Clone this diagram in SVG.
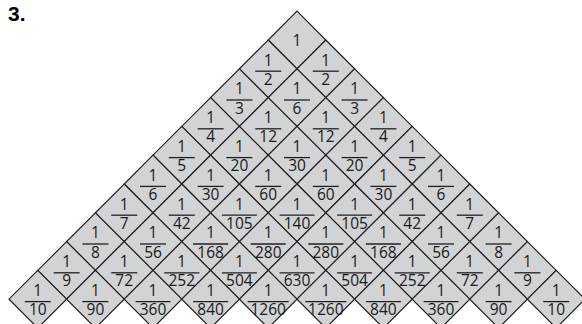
<svg xmlns="http://www.w3.org/2000/svg" xmlns:xlink="http://www.w3.org/1999/xlink" width="582" height="324" viewBox="0 0 582 324">
<style>
.d{fill:#d1d3d4;stroke:#231f20;stroke-width:1.2;stroke-linejoin:miter}
text{font-family:"Open Sans","Noto Sans",sans-serif;font-size:15.5px;fill:#1a1a1a;text-anchor:middle}
.bar{stroke:#231f20;stroke-width:1.3}
.lbl{font-family:"Liberation Sans",Arial,sans-serif;font-weight:bold;font-size:21px;text-anchor:start;fill:#000}
</style>
<defs>
<path id="d" class="d" d="M0,-28.8L28.8,0L0,28.8L-28.8,0Z"/>
<line id="b2" class="bar" x1="-13" y1="2.4" x2="13" y2="2.4"/>
<line id="b3" class="bar" x1="-17.5" y1="2.4" x2="17.5" y2="2.4"/>
<line id="b4" class="bar" x1="-20.5" y1="2.4" x2="20.5" y2="2.4"/>
</defs>
<text class="lbl" x="8" y="20.5">3.</text>
<g id="nodes">
<g id="n0-0" transform="translate(297,40)"><use href="#d"/><text y="5.5">1</text></g>

<g id="n1-0" transform="translate(268.2,68.8)"><use href="#d"/><text y="-3.3">1</text><use href="#b2"/><text y="15.9">2</text></g>
<g id="n1-1" transform="translate(325.8,68.8)"><use href="#d"/><text y="-3.3">1</text><use href="#b2"/><text y="15.9">2</text></g>

<g id="n2-0" transform="translate(239.4,97.6)"><use href="#d"/><text y="-3.3">1</text><use href="#b2"/><text y="15.9">3</text></g>
<g id="n2-1" transform="translate(297,97.6)"><use href="#d"/><text y="-3.3">1</text><use href="#b2"/><text y="15.9">6</text></g>
<g id="n2-2" transform="translate(354.6,97.6)"><use href="#d"/><text y="-3.3">1</text><use href="#b2"/><text y="15.9">3</text></g>

<g id="n3-0" transform="translate(210.6,126.4)"><use href="#d"/><text y="-3.3">1</text><use href="#b2"/><text y="15.9">4</text></g>
<g id="n3-1" transform="translate(268.2,126.4)"><use href="#d"/><text y="-3.3">1</text><use href="#b2"/><text y="15.9">12</text></g>
<g id="n3-2" transform="translate(325.8,126.4)"><use href="#d"/><text y="-3.3">1</text><use href="#b2"/><text y="15.9">12</text></g>
<g id="n3-3" transform="translate(383.4,126.4)"><use href="#d"/><text y="-3.3">1</text><use href="#b2"/><text y="15.9">4</text></g>

<g id="n4-0" transform="translate(181.8,155.2)"><use href="#d"/><text y="-3.3">1</text><use href="#b2"/><text y="15.9">5</text></g>
<g id="n4-1" transform="translate(239.4,155.2)"><use href="#d"/><text y="-3.3">1</text><use href="#b2"/><text y="15.9">20</text></g>
<g id="n4-2" transform="translate(297,155.2)"><use href="#d"/><text y="-3.3">1</text><use href="#b2"/><text y="15.9">30</text></g>
<g id="n4-3" transform="translate(354.6,155.2)"><use href="#d"/><text y="-3.3">1</text><use href="#b2"/><text y="15.9">20</text></g>
<g id="n4-4" transform="translate(412.2,155.2)"><use href="#d"/><text y="-3.3">1</text><use href="#b2"/><text y="15.9">5</text></g>

<g id="n5-0" transform="translate(153,184)"><use href="#d"/><text y="-3.3">1</text><use href="#b2"/><text y="15.9">6</text></g>
<g id="n5-1" transform="translate(210.6,184)"><use href="#d"/><text y="-3.3">1</text><use href="#b2"/><text y="15.9">30</text></g>
<g id="n5-2" transform="translate(268.2,184)"><use href="#d"/><text y="-3.3">1</text><use href="#b2"/><text y="15.9">60</text></g>
<g id="n5-3" transform="translate(325.8,184)"><use href="#d"/><text y="-3.3">1</text><use href="#b2"/><text y="15.9">60</text></g>
<g id="n5-4" transform="translate(383.4,184)"><use href="#d"/><text y="-3.3">1</text><use href="#b2"/><text y="15.9">30</text></g>
<g id="n5-5" transform="translate(441,184)"><use href="#d"/><text y="-3.3">1</text><use href="#b2"/><text y="15.9">6</text></g>

<g id="n6-0" transform="translate(124.2,212.8)"><use href="#d"/><text y="-3.3">1</text><use href="#b2"/><text y="15.9">7</text></g>
<g id="n6-1" transform="translate(181.8,212.8)"><use href="#d"/><text y="-3.3">1</text><use href="#b2"/><text y="15.9">42</text></g>
<g id="n6-2" transform="translate(239.4,212.8)"><use href="#d"/><text y="-3.3">1</text><use href="#b3"/><text y="15.9">105</text></g>
<g id="n6-3" transform="translate(297,212.8)"><use href="#d"/><text y="-3.3">1</text><use href="#b3"/><text y="15.9">140</text></g>
<g id="n6-4" transform="translate(354.6,212.8)"><use href="#d"/><text y="-3.3">1</text><use href="#b3"/><text y="15.9">105</text></g>
<g id="n6-5" transform="translate(412.2,212.8)"><use href="#d"/><text y="-3.3">1</text><use href="#b2"/><text y="15.9">42</text></g>
<g id="n6-6" transform="translate(469.8,212.8)"><use href="#d"/><text y="-3.3">1</text><use href="#b2"/><text y="15.9">7</text></g>

<g id="n7-0" transform="translate(95.4,241.6)"><use href="#d"/><text y="-3.3">1</text><use href="#b2"/><text y="15.9">8</text></g>
<g id="n7-1" transform="translate(153,241.6)"><use href="#d"/><text y="-3.3">1</text><use href="#b2"/><text y="15.9">56</text></g>
<g id="n7-2" transform="translate(210.6,241.6)"><use href="#d"/><text y="-3.3">1</text><use href="#b3"/><text y="15.9">168</text></g>
<g id="n7-3" transform="translate(268.2,241.6)"><use href="#d"/><text y="-3.3">1</text><use href="#b3"/><text y="15.9">280</text></g>
<g id="n7-4" transform="translate(325.8,241.6)"><use href="#d"/><text y="-3.3">1</text><use href="#b3"/><text y="15.9">280</text></g>
<g id="n7-5" transform="translate(383.4,241.6)"><use href="#d"/><text y="-3.3">1</text><use href="#b3"/><text y="15.9">168</text></g>
<g id="n7-6" transform="translate(441,241.6)"><use href="#d"/><text y="-3.3">1</text><use href="#b2"/><text y="15.9">56</text></g>
<g id="n7-7" transform="translate(498.6,241.6)"><use href="#d"/><text y="-3.3">1</text><use href="#b2"/><text y="15.9">8</text></g>

<g id="n8-0" transform="translate(66.6,270.4)"><use href="#d"/><text y="-3.3">1</text><use href="#b2"/><text y="15.9">9</text></g>
<g id="n8-1" transform="translate(124.2,270.4)"><use href="#d"/><text y="-3.3">1</text><use href="#b2"/><text y="15.9">72</text></g>
<g id="n8-2" transform="translate(181.8,270.4)"><use href="#d"/><text y="-3.3">1</text><use href="#b3"/><text y="15.9">252</text></g>
<g id="n8-3" transform="translate(239.4,270.4)"><use href="#d"/><text y="-3.3">1</text><use href="#b3"/><text y="15.9">504</text></g>
<g id="n8-4" transform="translate(297,270.4)"><use href="#d"/><text y="-3.3">1</text><use href="#b3"/><text y="15.9">630</text></g>
<g id="n8-5" transform="translate(354.6,270.4)"><use href="#d"/><text y="-3.3">1</text><use href="#b3"/><text y="15.9">504</text></g>
<g id="n8-6" transform="translate(412.2,270.4)"><use href="#d"/><text y="-3.3">1</text><use href="#b3"/><text y="15.9">252</text></g>
<g id="n8-7" transform="translate(469.8,270.4)"><use href="#d"/><text y="-3.3">1</text><use href="#b2"/><text y="15.9">72</text></g>
<g id="n8-8" transform="translate(527.4,270.4)"><use href="#d"/><text y="-3.3">1</text><use href="#b2"/><text y="15.9">9</text></g>

<g id="n9-0" transform="translate(37.8,299.2)"><use href="#d"/><text y="-3.3">1</text><use href="#b2"/><text y="15.9">10</text></g>
<g id="n9-1" transform="translate(95.4,299.2)"><use href="#d"/><text y="-3.3">1</text><use href="#b2"/><text y="15.9">90</text></g>
<g id="n9-2" transform="translate(153,299.2)"><use href="#d"/><text y="-3.3">1</text><use href="#b3"/><text y="15.9">360</text></g>
<g id="n9-3" transform="translate(210.6,299.2)"><use href="#d"/><text y="-3.3">1</text><use href="#b3"/><text y="15.9">840</text></g>
<g id="n9-4" transform="translate(268.2,299.2)"><use href="#d"/><text y="-3.3">1</text><use href="#b4"/><text y="15.9">1260</text></g>
<g id="n9-5" transform="translate(325.8,299.2)"><use href="#d"/><text y="-3.3">1</text><use href="#b4"/><text y="15.9">1260</text></g>
<g id="n9-6" transform="translate(383.4,299.2)"><use href="#d"/><text y="-3.3">1</text><use href="#b3"/><text y="15.9">840</text></g>
<g id="n9-7" transform="translate(441,299.2)"><use href="#d"/><text y="-3.3">1</text><use href="#b3"/><text y="15.9">360</text></g>
<g id="n9-8" transform="translate(498.6,299.2)"><use href="#d"/><text y="-3.3">1</text><use href="#b2"/><text y="15.9">90</text></g>
<g id="n9-9" transform="translate(556.2,299.2)"><use href="#d"/><text y="-3.3">1</text><use href="#b2"/><text y="15.9">10</text></g>
</g>
</svg>
